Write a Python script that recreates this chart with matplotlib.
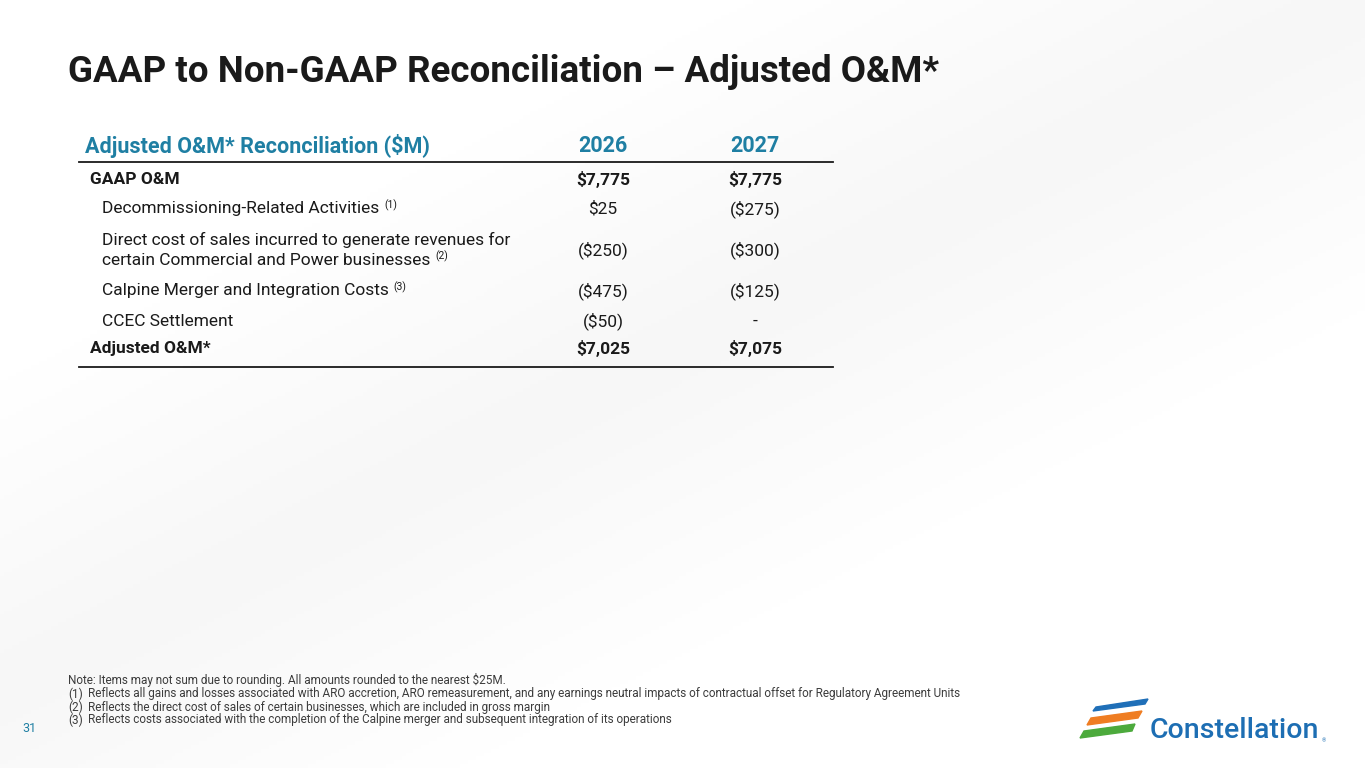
import numpy as np
import matplotlib
matplotlib.use("Agg")
from matplotlib import pyplot as plt
from matplotlib.patches import Polygon

W, H = 1365, 768

title = "GAAP to Non-GAAP Reconciliation \u2013 Adjusted O&M*"
header = ["Adjusted O&M* Reconciliation ($M)", "2026", "2027"]
row_labels = ["GAAP O&M",
              "Decommissioning-Related Activities",
              "Direct cost of sales incurred to generate revenues for\ncertain Commercial and Power businesses",
              "Calpine Merger and Integration Costs",
              "CCEC Settlement",
              "Adjusted O&M*"]
row_notes = ["", "(1)", "(2)", "(3)", "", ""]
vals_2026 = ["$7,775", "$25", "($250)", "($475)", "($50)", "$7,025"]
vals_2027 = ["$7,775", "($275)", "($300)", "($125)", "-", "$7,075"]
row_bold = [True, False, False, False, False, True]
notes = ["Note: Items may not sum due to rounding. All amounts rounded to the nearest $25M.",
         "Reflects all gains and losses associated with ARO accretion, ARO remeasurement, and any earnings neutral impacts of contractual offset for Regulatory Agreement Units",
         "Reflects the direct cost of sales of certain businesses, which are included in gross margin",
         "Reflects costs associated with the completion of the Calpine merger and subsequent integration of its operations"]
page_no = "31"

TEAL = "#1f7fa3"
DARK = "#1a1a1a"
GREY = "#3c3c3c"
plt.rcParams['font.family'] = ['Roboto', 'DejaVu Sans']

fig = plt.figure(figsize=(W / 100, H / 100), dpi=100)

# faint background shading
bg = fig.add_axes([0, 0, 1, 1])
yy, xx = np.mgrid[0:1:200j, 0:1:350j]
shade = 0.035 * np.clip(1 - np.abs((xx * 0.9 + yy) - 0.9) * 2.2, 0, 1)
bg.imshow(1 - shade, cmap="gray", vmin=0, vmax=1, extent=[0, 1, 0, 1], aspect="auto")
bg.axis("off")


def px(x, y):
    return x / W, 1 - y / H


def txt(x, y, s, **kw):
    return fig.text(*px(x, y), s, **kw)


txt(68, 72, title, fontsize=26.5, fontweight="bold", color=DARK, va="center")

# header
col_x = [603, 755]
txt(85, 146, header[0], fontsize=15.5, fontweight="bold", color=TEAL, va="center")
for cx, h in zip(col_x, header[1:]):
    txt(cx, 146, h, fontsize=15.5, fontweight="bold", color=TEAL, va="center", ha="center")

fig.add_artist(plt.Line2D([79 / W, 833 / W], [1 - 162 / H] * 2, color=DARK, lw=1.3))
fig.add_artist(plt.Line2D([79 / W, 833 / W], [1 - 367 / H] * 2, color=DARK, lw=1.3))

FS = 12.5
row_y = [179, 209, 250, 291, 321, 349]
renderer = fig.canvas.get_renderer()
for lab, note, v1, v2, b, y in zip(row_labels, row_notes, vals_2026, vals_2027, row_bold, row_y):
    x0 = 90 if b else 102
    fw = "bold" if b else "normal"
    lines = lab.split("\n")
    n = len(lines)
    t = None
    for k, line in enumerate(lines):
        ly = y + (k - (n - 1) / 2) * 20
        t = txt(x0, ly, line, fontsize=FS, fontweight=fw, color=DARK, va="center")
    if note:
        lw_ = t.get_window_extent(renderer).width
        ly = y + ((n - 1) / 2) * 20
        txt(x0 + lw_ + 5, ly - 4, note, fontsize=7.5, color=DARK, va="center")
    txt(col_x[0], y, v1, fontsize=FS, fontweight=fw, color=DARK, va="center", ha="center")
    txt(col_x[1], y, v2, fontsize=FS, fontweight=fw, color=DARK, va="center", ha="center")

# footnotes
FN = 8.5
txt(68, 680, notes[0], fontsize=FN, color=GREY, va="center")
for i, n in enumerate(notes[1:]):
    y = 694 + i * 13
    txt(68, y, "(%d)" % (i + 1), fontsize=FN, color=GREY, va="center")
    txt(88, y, n, fontsize=FN, color=GREY, va="center")

txt(22, 729, page_no, fontsize=9, color=TEAL, va="center")

# logo
stripes = [("#1f6fb8", [(1093, 711), (1145, 704), (1148, 699), (1096, 707)]),
           ("#ef7d22", [(1087, 725), (1138, 718), (1142, 711), (1091, 718)]),
           ("#4caa3c", [(1080, 738), (1132, 731), (1135, 724), (1084, 731)])]
for c, pts in stripes:
    poly = [px(x, y) for x, y in pts]
    fig.add_artist(Polygon(poly, closed=True, color=c, transform=fig.transFigure))
txt(1150, 731, "Constellation", fontsize=20.5, fontweight="medium", color="#1d6eb3", va="center")
txt(1322, 741, "\u00ae", fontsize=4, color="#1d6eb3", va="center")

fig.savefig("out.png", dpi=100)
